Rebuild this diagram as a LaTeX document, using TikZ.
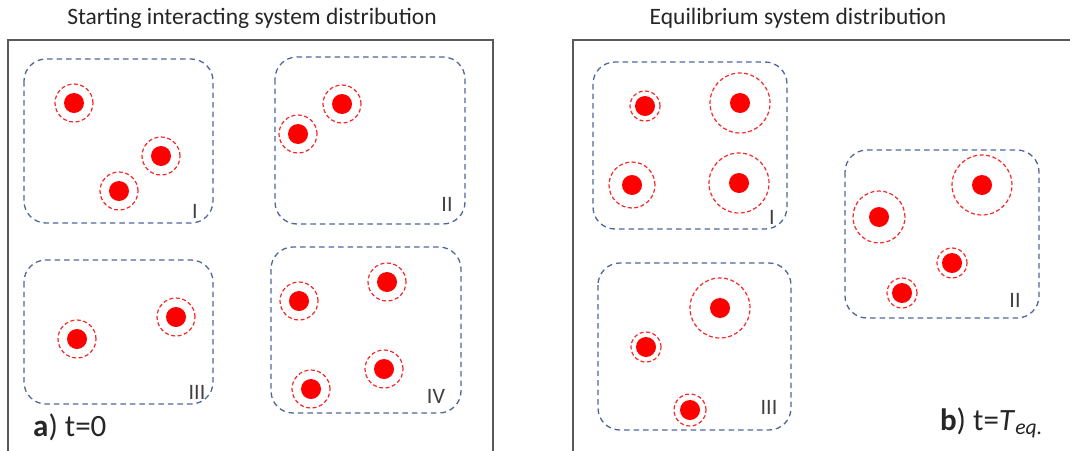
\documentclass[tikz,border=0pt]{standalone}
\usepackage{fontspec}
\setmainfont{Carlito}
\definecolor{boxblue}{RGB}{78,104,158}
\definecolor{halored}{RGB}{245,40,40}
\begin{document}
\begin{tikzpicture}[x=1pt,y=-1pt,
  frame/.style={draw=black!65,line width=1.5pt},
  region/.style={draw=boxblue,dashed,dash pattern=on 5.5pt off 4pt,line width=1.3pt,rounded corners=22pt},
  core/.style={fill=red,draw=none,circle,minimum size=20pt,inner sep=0pt},
  halo/.style={draw=halored,dashed,dash pattern=on 4pt off 2.5pt,line width=1.2pt},
  roman/.style={font=\fontsize{22}{26}\selectfont,text=black!75,inner sep=0pt},
  title/.style={font=\fontsize{23.5}{28}\selectfont,text=black!85,inner sep=0pt},
  caption/.style={font=\fontsize{31}{36}\selectfont,text=black!85,inner sep=0pt}]
\useasboundingbox (0,0) rectangle (1070,450);
\fill[white] (0,0) rectangle (1070,450);
% titles
\node[title] (ta) at (252,18) {Starting interacting system distribution};
\node[title] (tb) at (798,18) {Equilibrium system distribution};
% frames
\draw[frame] (8,452) -- (8,40) -- (493,40) -- (493,452);
\draw[frame] (573,452) -- (573,40) -- (1072,40);
% left regions
\draw[region] (24,59) rectangle (213,223);
\draw[region] (275,57) rectangle (465,224);
\draw[region] (24,260) rectangle (213,404);
\draw[region] (271,247) rectangle (461,413);
% right regions
\draw[region] (593,62) rectangle (787,229);
\draw[region] (845,150) rectangle (1039,318);
\draw[region] (598,263) rectangle (791,430);
% left particles
\foreach \n/\x/\y in {a1/74/103, a2/161/156, a3/119/191, b1/342/104, b2/298/134,
  c1/77/339, c2/176/317, d1/299/301, d2/387/282, d3/384/369, d4/311/389}{
  \node[core] (\n) at (\x,\y) {};
  \draw[halo] (\n) circle (19pt);
}
% right particles
\foreach \n/\x/\y/\r in {e1/645/106/15, e2/740/103/30, e3/632/185/23, e4/739/183/30,
  f1/982/185/30, f2/879/217/26, f3/952/263/15, f4/902/293/15,
  g1/720/308/30, g2/646/347/15, g3/690/410/16}{
  \node[core] (\n) at (\x,\y) {};
  \draw[halo] (\n) circle (\r pt);
}
% roman labels
\node[roman] (lI) at (195,211) {I};
\node[roman] (lII) at (447,204) {II};
\node[roman] (lIII) at (197,392) {III};
\node[roman] (lIV) at (436,396) {IV};
\node[roman] (rI) at (772,217) {I};
\node[roman] (rII) at (1015,300) {II};
\node[roman] (rIII) at (769,407) {III};
% captions
\node[caption,anchor=west] (ca) at (33,427) {\textbf{a}) t=0};
\node[caption,anchor=east] (cb) at (1043,423) {\textbf{b}) t=\textit{T}\textsubscript{\textit{eq.}}};
\end{tikzpicture}
\end{document}
